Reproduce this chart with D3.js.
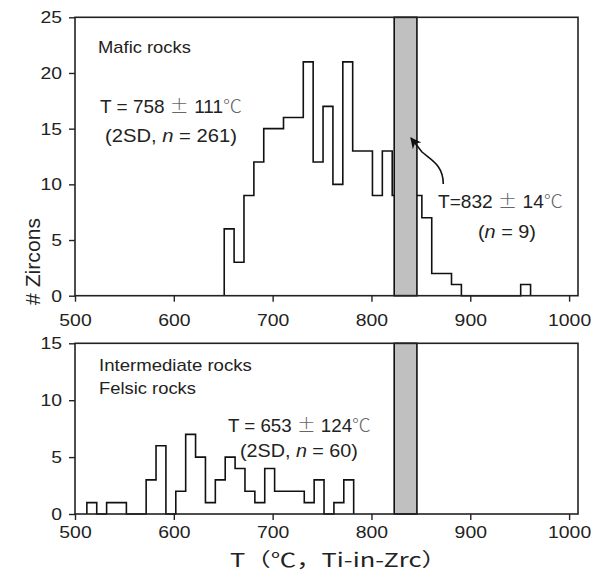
<!DOCTYPE html>
<html>
<head>
<meta charset="utf-8">
<script src="https://cdn.jsdelivr.net/npm/d3@7"></script>
<style>
    body { margin: 0; background: #fff; }
    text { font-family: "Liberation Sans", Arial, sans-serif; fill: #222; }
    .sym { font-family: "Noto Sans CJK SC", sans-serif; fill: #666; font-weight: 300; }
    .it { font-style: italic; }
</style>
</head>
<body>
<div id="chart"></div>
<script>
// shared temperature axis
var tempTicks = [500, 600, 700, 800, 900, 1000];
var binWidth = 10;

// mafic rocks, counts per 10 degree bin starting at 651
var maficBinStart = 651;
var maficCounts = [6, 3, 9, 12, 15, 15, 16, 16, 21, 12, 17, 10, 21, 13, 13, 9, 13, 9, 9, 9,
                   7, 2, 2, 1, 0, 0, 0, 0, 0, 0, 1];
var maficTicks = [0, 5, 10, 15, 20, 25];

// intermediate + felsic rocks, bins start at 512
var felsicBinStart = 512;
var felsicCounts = [1, 0, 1, 1, 0, 0, 3, 6, 0, 2, 7, 5, 1, 3, 5, 4, 2, 1, 4, 2, 2, 2, 1, 3, 0, 1, 3];
var felsicTicks = [0, 5, 10, 15];

// shaded band T = 832 +- 14
var band = [823, 846];

var svg = d3.select("#chart").append("svg")
    .attr("width", 591)
    .attr("height", 574);

var x = d3.scaleLinear()
    .domain([500, 1009])
    .range([75, 578]);

svg.append("defs").append("marker")
    .attr("id", "head")
    .attr("viewBox", "0 0 10 10")
    .attr("refX", 9)
    .attr("refY", 5)
    .attr("markerUnits", "userSpaceOnUse")
    .attr("markerWidth", 14)
    .attr("markerHeight", 11)
    .attr("orient", "auto")
    .append("path")
    .attr("d", "M0,0 L10,5 L0,10 L3,5 z")
    .attr("fill", "#111");

function histPoints(start, counts) {
    var pts = [[start, 0]];
    counts.forEach(function(c, i) {
        var x0 = start + i * binWidth;
        pts.push([x0, c]);
        pts.push([x0 + binWidth, c]);
    });
    pts.push([start + counts.length * binWidth, 0]);
    return pts;
}

function drawPanel(top, bottom, yMax, ticks, start, counts, tickPad) {
    var y = d3.scaleLinear().domain([0, yMax]).range([bottom, top]);
    var g = svg.append("g");

    var line = d3.line()
        .x(function(d) { return x(d[0]); })
        .y(function(d) { return y(d[1]); });

    g.append("path")
        .datum(histPoints(start, counts))
        .attr("d", line)
        .attr("fill", "none")
        .attr("stroke", "#111")
        .attr("stroke-width", 1.6);

    g.append("rect")
        .attr("x", x(band[0]))
        .attr("y", top)
        .attr("width", x(band[1]) - x(band[0]))
        .attr("height", bottom - top)
        .attr("fill", "#c0c0c0")
        .attr("stroke", "#111")
        .attr("stroke-width", 1.6);

    // frame
    g.append("rect")
        .attr("x", x.range()[0])
        .attr("y", top)
        .attr("width", x.range()[1] - x.range()[0])
        .attr("height", bottom - top)
        .attr("fill", "none")
        .attr("stroke", "#222")
        .attr("stroke-width", 1.6);

    var xAxis = d3.axisBottom(x)
        .tickValues(tempTicks)
        .tickSize(6)
        .tickSizeOuter(0)
        .tickPadding(tickPad)
        .tickFormat(d3.format("d"));

    var yAxis = d3.axisLeft(y)
        .tickValues(ticks)
        .tickSize(6)
        .tickSizeOuter(0)
        .tickPadding(5.4);

    var gx = g.append("g")
        .attr("transform", "translate(0," + bottom + ")")
        .call(xAxis);
    var gy = g.append("g")
        .attr("transform", "translate(" + x.range()[0] + ",0)")
        .call(yAxis);

    [gx, gy].forEach(function(a) {
        a.select(".domain").remove();
        a.selectAll("line").attr("stroke", "#222").attr("stroke-width", 1.4);
        a.selectAll("text")
            .attr("font-size", 17)
            .attr("fill", "#222")
            .style("font-family", "'Liberation Sans', Arial, sans-serif")
            .attr("transform", "scale(1.14,1)");
    });
    return y;
}

drawPanel(17.3, 295.7, 25, maficTicks, maficBinStart, maficCounts, 12);
drawPanel(343.3, 514, 15, felsicTicks, felsicBinStart, felsicCounts, 6);

// text with a horizontal stretch so it fills the measured width
function addLabel(parts, px, py, width, size) {
    var t = svg.append("text").attr("font-size", size);
    parts.forEach(function(p) {
        var s = t.append("tspan").text(p[0]);
        if (p[1]) s.attr("class", p[1]);
    });
    var w = t.node().getComputedTextLength();
    t.attr("transform", "translate(" + px + "," + py + ") scale(" + (width / w) + ",1)");
    return t;
}

addLabel([["Mafic rocks"]], 98, 53, 93, 16);
addLabel([["T = 758 "], ["\u00b1", "sym"], [" 111"], ["\u2103", "sym"]], 100, 113, 142, 18);
addLabel([["(2SD, "], ["n", "it"], [" = 261)"]], 105, 142, 132, 18);
addLabel([["T=832 "], ["\u00b1", "sym"], [" 14"], ["\u2103", "sym"]], 438, 208, 125, 18);
addLabel([["("], ["n", "it"], [" = 9)"]], 478, 238, 58, 18);

addLabel([["Intermediate rocks"]], 99, 371, 153, 16);
addLabel([["Felsic rocks"]], 99, 394, 97, 16);
addLabel([["T = 653 "], ["\u00b1", "sym"], [" 124"], ["\u2103", "sym"]], 228, 432, 143, 18);
addLabel([["(2SD, "], ["n", "it"], [" = 60)"]], 240, 457, 118, 18);

// axis titles
var title = svg.append("text")
    .attr("font-size", 19)
    .style("font-family", "'Noto Sans CJK SC', sans-serif")
    .text("T\uff08\u2103\uff0cTi-in-Zrc\uff09");
var wt = title.node().getComputedTextLength();
title.attr("transform", "translate(230,567) scale(" + (217 / wt) + ",1)");

var ylab = svg.append("text")
    .attr("font-size", 20)
    .attr("text-anchor", "middle")
    .text("# Zircons");
var wy = ylab.node().getComputedTextLength();
ylab.attr("transform", "translate(40,261.5) rotate(-90) scale(" + (87 / wy) + ",1)");

// arrow pointing at the shaded band
svg.append("path")
    .attr("d", "M443.3,184 C443.3,165 431,160 422,152 L411,138")
    .attr("fill", "none")
    .attr("stroke", "#111")
    .attr("stroke-width", 1.6)
    .attr("marker-end", "url(#head)");
</script>
</body>
</html>
